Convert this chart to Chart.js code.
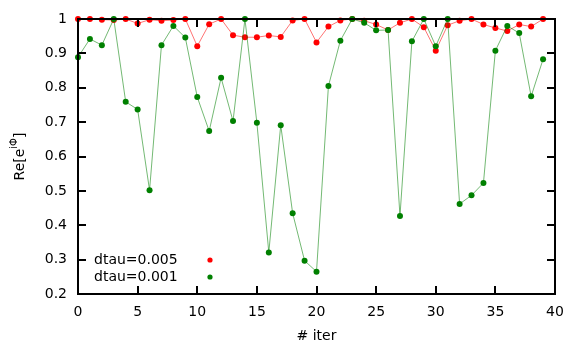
<!DOCTYPE html>
<html>
<head>
<meta charset="utf-8">
<script src="https://cdn.jsdelivr.net/npm/chart.js@4.4.1/dist/chart.umd.min.js"></script>
<style>
  html, body { margin: 0; padding: 0; background: #fff; }
  #wrap { width: 581px; height: 349px; }
</style>
</head>
<body>
<div id="wrap"><canvas id="c" width="581" height="349"></canvas></div>
<script>
// ── data ────────────────────────────────────────────────────
const iters = [0,1,2,3,4,5,6,7,8,9,10,11,12,13,14,15,16,17,18,19,
               20,21,22,23,24,25,26,27,28,29,30,31,32,33,34,35,36,37,38,39];

const dtau005 = [1.0, 1.0, 0.998, 0.997, 1.0, 0.987, 0.998, 0.995, 0.997, 1.0,
                 0.921, 0.985, 1.0, 0.953, 0.947, 0.947, 0.952, 0.948, 0.996, 1.0,
                 0.932, 0.978, 0.996, 1.0, 0.995, 0.984, 0.968, 0.989, 1.0, 0.976,
                 0.908, 0.982, 0.995, 1.0, 0.984, 0.974, 0.965, 0.984, 0.978, 1.0];

const dtau001 = [0.889, 0.942, 0.924, 1.0, 0.759, 0.737, 0.502, 0.924, 0.98, 0.946,
                 0.773, 0.674, 0.829, 0.703, 1.0, 0.698, 0.321, 0.691, 0.435, 0.297,
                 0.265, 0.805, 0.937, 1.0, 0.989, 0.967, 0.968, 0.427, 0.935, 1.0,
                 0.921, 1.0, 0.462, 0.487, 0.523, 0.908, 0.98, 0.959, 0.775, 0.883];

const seriesLabels = ['dtau=0.005', 'dtau=0.001'];
const xTicks = [0, 5, 10, 15, 20, 25, 30, 35, 40];
const yTicks = [0.2, 0.3, 0.4, 0.5, 0.6, 0.7, 0.8, 0.9, 1];

const FONT = "'DejaVu Sans', sans-serif";
const RED = '#ff0000';
const GREEN = '#008000';

const toPoints = vals => iters.map((x, i) => ({ x, y: vals[i] }));

// ── frame, inward ticks, titles and key (gnuplot look) ──────
const framePlugin = {
  id: 'frame',
  afterDraw(chart) {
    const { ctx, chartArea: a, scales: { x, y } } = chart;
    ctx.save();
    ctx.strokeStyle = '#000';
    ctx.lineWidth = 2;
    ctx.strokeRect(a.left, a.top, a.right - a.left, a.bottom - a.top);
    ctx.beginPath();
    const tl = 8;
    xTicks.forEach(v => {
      const px = Math.round(x.getPixelForValue(v));
      ctx.moveTo(px, a.bottom); ctx.lineTo(px, a.bottom - tl);
      ctx.moveTo(px, a.top); ctx.lineTo(px, a.top + tl);
    });
    yTicks.forEach(v => {
      const py = Math.round(y.getPixelForValue(v));
      ctx.moveTo(a.left, py); ctx.lineTo(a.left + tl, py);
      ctx.moveTo(a.right, py); ctx.lineTo(a.right - tl, py);
    });
    ctx.stroke();

    // x title
    ctx.fillStyle = '#000';
    ctx.font = '14px ' + FONT;
    ctx.textAlign = 'center';
    ctx.textBaseline = 'middle';
    ctx.fillText('# iter', (a.left + a.right) / 2, 336);

    // y title with superscript
    ctx.save();
    ctx.translate(20, (a.top + a.bottom) / 2);
    ctx.rotate(-Math.PI / 2);
    ctx.textAlign = 'left';
    ctx.textBaseline = 'middle';
    const p1 = 'Re[e', p3 = ']';
    ctx.font = '10px ' + FONT;
    const w2 = ctx.measureText('iΦ').width;
    ctx.font = '14px ' + FONT;
    const w1 = ctx.measureText(p1).width, w3 = ctx.measureText(p3).width;
    const sx = -(w1 + w2 + w3) / 2;
    ctx.fillText(p1, sx, 0);
    ctx.font = '10px ' + FONT;
    ctx.fillText('iΦ', sx + w1, -6);
    ctx.font = '14px ' + FONT;
    ctx.fillText(p3, sx + w1 + w2, 0);
    ctx.restore();

    // key
    ctx.textAlign = 'left';
    ctx.textBaseline = 'middle';
    ctx.font = '14px ' + FONT;
    [[seriesLabels[0], RED, 260], [seriesLabels[1], GREEN, 277]].forEach(([t, c, ty]) => {
      ctx.fillStyle = '#000';
      ctx.fillText(t, 94, ty);
      ctx.fillStyle = c;
      ctx.beginPath();
      ctx.arc(210, ty, 2.6, 0, Math.PI * 2);
      ctx.fill();
    });
    ctx.restore();
  }
};

new Chart(document.getElementById('c'), {
  type: 'line',
  data: {
    datasets: [
      {
        label: seriesLabels[1],
        data: toPoints(dtau001),
        borderColor: 'rgba(0,128,0,0.55)',
        borderWidth: 1,
        pointBackgroundColor: GREEN,
        pointBorderColor: GREEN,
        pointRadius: 3,
        pointBorderWidth: 0,
        tension: 0,
        clip: false,
        order: 0
      },
      {
        label: seriesLabels[0],
        data: toPoints(dtau005),
        borderColor: 'rgba(255,0,0,0.55)',
        borderWidth: 1,
        pointBackgroundColor: RED,
        pointBorderColor: RED,
        pointRadius: 3,
        pointBorderWidth: 0,
        tension: 0,
        clip: false,
        order: 1
      }
    ]
  },
  options: {
    responsive: false,
    animation: false,
    devicePixelRatio: 1,
    layout: { padding: { left: 0, top: 19, right: 26, bottom: 0 } },
    plugins: { legend: { display: false }, tooltip: { enabled: false } },
    scales: {
      x: {
        type: 'linear', min: 0, max: 40,
        afterBuildTicks: s => { s.ticks = xTicks.map(v => ({ value: v })); },
        afterFit: s => { s.height = 55; },
        grid: { display: false },
        border: { display: false },
        ticks: { color: '#000', font: { family: FONT, size: 14 }, padding: 2, maxRotation: 0,
                 callback: v => String(v) }
      },
      y: {
        min: 0.2, max: 1,
        afterBuildTicks: s => { s.ticks = yTicks.map(v => ({ value: v })); },
        afterFit: s => { s.width = 78; },
        grid: { display: false },
        border: { display: false },
        ticks: { color: '#000', font: { family: FONT, size: 14 }, padding: 3,
                 callback: v => String(Math.round(v * 10) / 10) }
      }
    }
  },
  plugins: [framePlugin]
});
</script>
</body>
</html>
